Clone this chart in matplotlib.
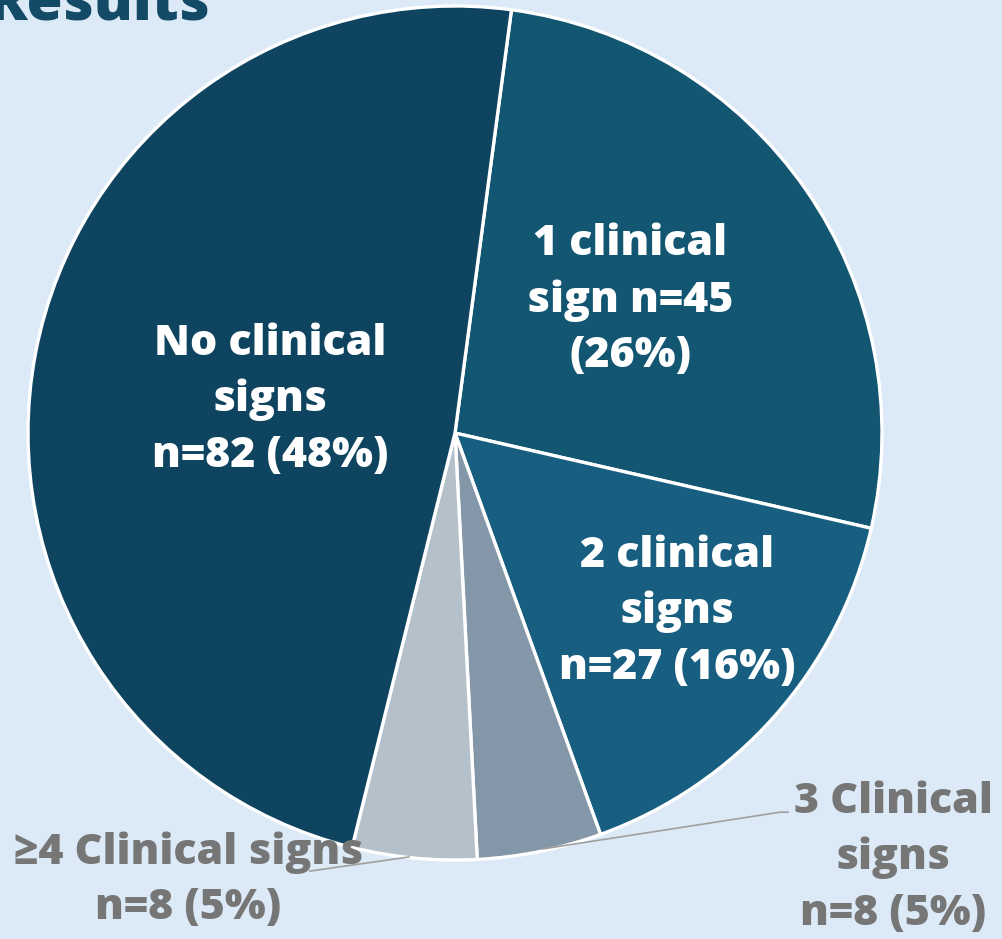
import matplotlib.pyplot as plt

labels = ["1 clinical\nsign n=45\n(26%)", "2 clinical\nsigns\nn=27 (16%)",
          "3 Clinical\nsigns\nn=8 (5%)", "\u22654 Clinical signs\nn=8 (5%)",
          "No clinical\nsigns\nn=82 (48%)"]
counts = [45, 27, 8, 8, 82]
colors = ["#135672", "#175e80", "#8497a8", "#b4c0ca", "#0e4460"]

BG = "#dce9f6"
plt.rcParams['font.family'] = ['Open Sans', 'DejaVu Sans']

fig = plt.figure(figsize=(10.02, 9.39), dpi=100, facecolor=BG)
ax = fig.add_axes([28 / 1002, 79 / 939, 854 / 1002, 854 / 939])
ax.set_facecolor(BG)

wedges, _ = ax.pie(counts, colors=colors, startangle=82.4, counterclock=False,
                   radius=1.0, wedgeprops=dict(edgecolor="white", linewidth=2.4))
ax.set_xlim(-1, 1)
ax.set_ylim(-1, 1)
ax.set_aspect("equal")
ax.axis("off")

FS = 31
# inside labels
inside = {0: (0.41, 0.311), 1: (0.52, -0.419), 4: (-0.433, 0.077)}
for i, (x, y) in inside.items():
    ax.text(x, y, labels[i], ha="center", va="center", color="white",
            fontsize=FS, fontweight="heavy", linespacing=1.42)

# outside labels with leader lines
ax.plot([0.206, 0.761, 0.780], [-0.974, -0.888, -0.888], color="#a0a0a0",
        lw=1.2, clip_on=False)
ax.plot([-0.108, -0.340], [-0.993, -1.026], color="#a0a0a0", lw=1.2, clip_on=False)
ax.text(1.026, -0.995, labels[2], ha="center", va="center", color="#767676",
        fontsize=FS, fontweight="heavy", linespacing=1.42)
ax.text(-0.625, -1.047, labels[3], ha="center", va="center", color="#767676",
        fontsize=FS, fontweight="heavy", linespacing=1.42)

fig.text(-0.012, 0.979, "Results", ha="left", va="baseline", color="#134a66",
         fontsize=42, fontweight="heavy")

fig.savefig("out.png", dpi=100, facecolor=BG)
